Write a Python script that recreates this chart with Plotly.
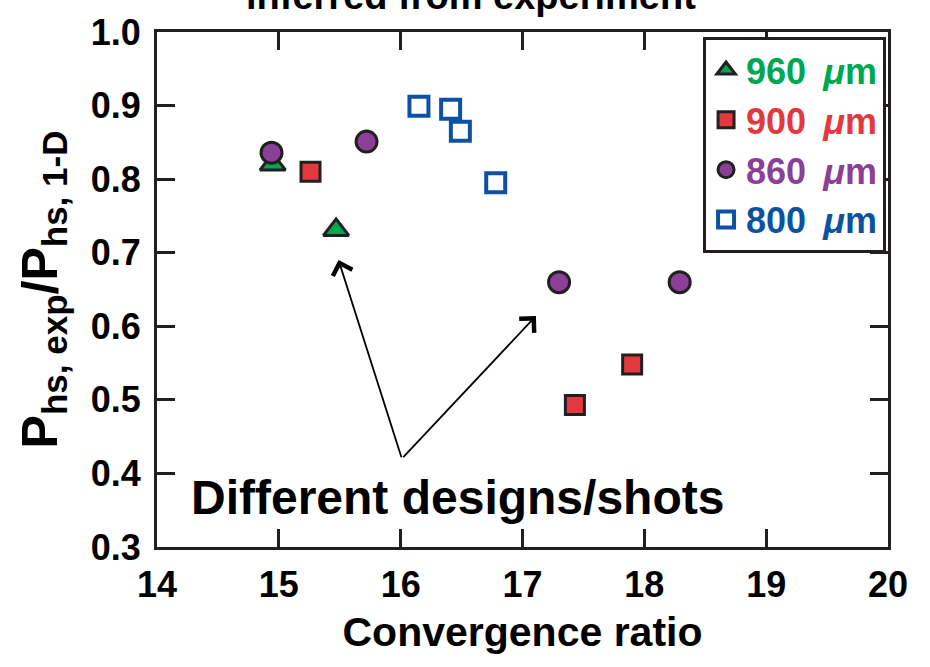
import plotly.graph_objects as go

# ---- data ----
cr_960 = [14.95, 15.47]
p_960 = [0.82, 0.731]

cr_900 = [15.26, 17.43, 17.90]
p_900 = [0.810, 0.493, 0.548]

cr_860 = [14.94, 15.72, 17.30, 18.29]
p_860 = [0.836, 0.851, 0.660, 0.660]

cr_800 = [16.15, 16.41, 16.49, 16.78]
p_800 = [0.899, 0.895, 0.865, 0.795]

x_ticks = [14, 15, 16, 17, 18, 19, 20]
y_ticks = [0.3, 0.4, 0.5, 0.6, 0.7, 0.8, 0.9, 1.0]

arrow_start = (16.01, 0.420)
arrow_tips = [(15.49, 0.690), (17.11, 0.614)]

GREEN = "#00a651"
RED = "#e2393f"
PURPLE = "#8b3f98"
BLUE = "#0d52a2"
DARK = "#231f20"
FONT = "Liberation Sans"

fig = go.Figure()

def lab(txt, col):
    return f'<span style="color:{col}"><b>{txt}\u00a0\u2009<i>μ</i>m</b></span>'

fig.add_trace(go.Scatter(x=cr_960, y=p_960, mode="markers", name=lab("960", GREEN),
                         marker=dict(symbol="triangle-up", size=22, color=GREEN,
                                     line=dict(color=DARK, width=3))))
fig.add_trace(go.Scatter(x=cr_860, y=p_860, mode="markers", name=lab("860", PURPLE),
                         marker=dict(symbol="circle", size=21, color=PURPLE,
                                     line=dict(color=DARK, width=3)), showlegend=False))
fig.add_trace(go.Scatter(x=cr_900, y=p_900, mode="markers", name=lab("900", RED),
                         marker=dict(symbol="square", size=19, color=RED,
                                     line=dict(color=DARK, width=3))))
# legend ordering helper: 860 legend entry after 900
fig.add_trace(go.Scatter(x=[None], y=[None], mode="markers", name=lab("860", PURPLE),
                         marker=dict(symbol="circle", size=21, color=PURPLE,
                                     line=dict(color=DARK, width=3))))
fig.add_trace(go.Scatter(x=cr_800, y=p_800, mode="markers", name=lab("800", BLUE),
                         marker=dict(symbol="square-open", size=19, color=BLUE,
                                     line=dict(color=BLUE, width=4))))

for tx, ty in arrow_tips:
    fig.add_annotation(x=tx, y=ty, ax=arrow_start[0], ay=arrow_start[1],
                       xref="x", yref="y", axref="x", ayref="y",
                       showarrow=True, arrowhead=4, arrowsize=2.2, arrowwidth=1.8,
                       arrowcolor="black", text="")

fig.add_annotation(x=16.47, y=0.367, xref="x", yref="y", text="<b>Different designs/shots</b>",
                   showarrow=False, font=dict(family=FONT, size=48, color="black"))

fig.add_annotation(x=0.43, y=1.07, xref="paper", yref="paper", yanchor="middle",
                   text="<b>inferred from experiment</b>", showarrow=False,
                   font=dict(family=FONT, size=38, color="black"))

tickfont = dict(family=FONT, size=36, color="black", weight="bold")
axis_common = dict(showline=True, linecolor=DARK, linewidth=3, mirror="ticks",
                   ticks="inside", ticklen=18, tickwidth=3, tickcolor=DARK,
                   showgrid=False, zeroline=False, tickfont=tickfont)

fig.update_xaxes(range=[14, 20], tickvals=x_ticks, ticktext=[str(v) for v in x_ticks],
                 ticklabelstandoff=4,
                 title=dict(text="<b>Convergence ratio</b>", standoff=14,
                            font=dict(family=FONT, size=41, color="black")),
                 **axis_common)
fig.update_yaxes(range=[0.3, 1.0], tickvals=y_ticks, ticktext=[f"{v:.1f}" for v in y_ticks],
                 ticklabelstandoff=6,
                 title=dict(text="<b>P<sub>hs, exp</sub>/P<sub>hs, 1-D</sub></b>", standoff=18,
                            font=dict(family=FONT, size=50, color="black")),
                 **axis_common)

fig.update_layout(
    width=930, height=667,
    margin=dict(l=157, r=42, t=27, b=120),
    plot_bgcolor="white", paper_bgcolor="white",
    font=dict(family=FONT, color="black"),
    legend=dict(x=0.747, y=0.99, xanchor="left", yanchor="top",
                bgcolor="white", bordercolor=DARK, borderwidth=3,
                font=dict(family=FONT, size=36), itemwidth=30,
                tracegroupgap=0),
)

fig.write_html("out.html")
